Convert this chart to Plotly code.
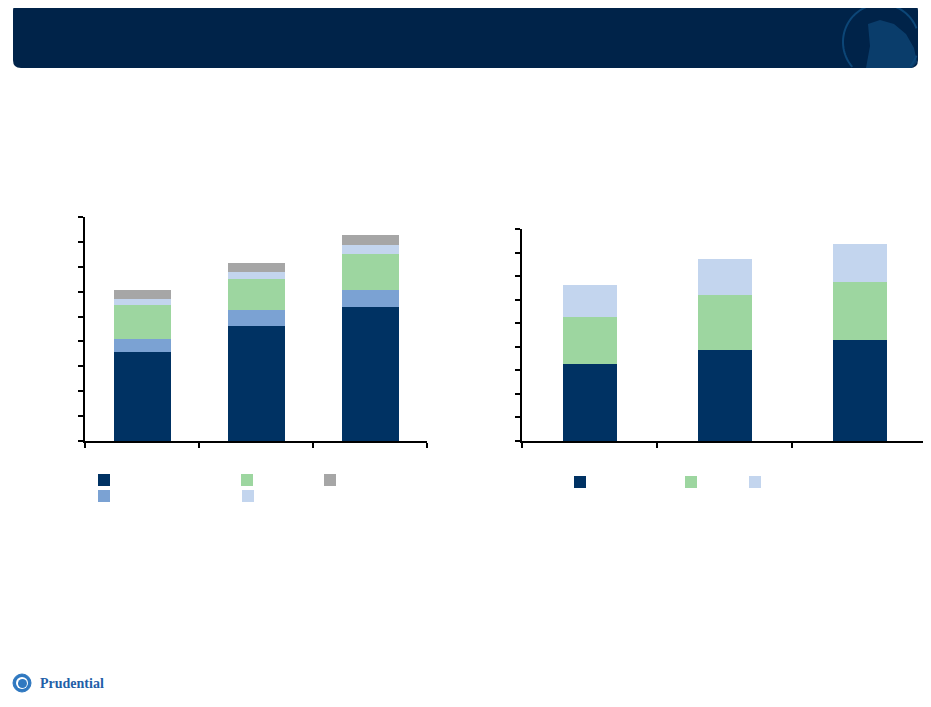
import numpy as np
import plotly.graph_objects as go

# page has an 8px body margin, figure starts at (8, 8)
OFF = 8
W, H = 931 - OFF, 707 - OFF

# left chart: five stacked components (units = one y tick)
left_cats = ["1", "2", "3"]
left_navy = [3.59, 4.63, 5.39]
left_mid = [0.52, 0.64, 0.68]
left_green = [1.37, 1.25, 1.45]
left_light = [0.24, 0.28, 0.37]
left_gray = [0.33, 0.37, 0.40]

# right chart: three stacked components
right_cats = ["1", "2", "3"]
right_navy = [3.26, 3.86, 4.28]
right_green = [2.00, 2.34, 2.47]
right_light = [1.36, 1.53, 1.62]

NAVY = "#003263"
MID = "#7ba2d3"
GREEN = "#9dd6a0"
LIGHT = "#c3d5ee"
GRAY = "#a6a6a6"


def px_x(v):
    return (v - OFF) / W


def px_y(v):
    return 1 - (v - OFF) / H


def p(x, y):
    return f"{px_x(x):.5f},{px_y(y):.5f}"


fig = go.Figure()

left = [(left_navy, NAVY, "legend"), (left_mid, MID, "legend4"),
        (left_green, GREEN, "legend2"), (left_light, LIGHT, "legend5"),
        (left_gray, GRAY, "legend3")]
for vals, col, lg in left:
    fig.add_trace(go.Bar(x=left_cats, y=vals, marker_color=col, marker_line_width=0,
                         width=0.5, name=" ", legend=lg, xaxis="x", yaxis="y"))

right = [(right_navy, NAVY, "legend6"), (right_green, GREEN, "legend7"),
         (right_light, LIGHT, "legend8")]
for vals, col, lg in right:
    fig.add_trace(go.Bar(x=right_cats, y=vals, marker_color=col, marker_line_width=0,
                         width=0.4, name=" ", legend=lg, xaxis="x2", yaxis="y2"))

axis_x = dict(showline=True, linecolor="black", linewidth=1.5, ticks="outside",
              ticklen=5, tickwidth=1.5, tickcolor="black", tickson="boundaries",
              showticklabels=False, showgrid=False, zeroline=False, fixedrange=True)
axis_y = dict(showline=True, linecolor="black", linewidth=1.5, ticks="outside",
              ticklen=5, tickwidth=1.5, tickcolor="black", range=[0, 9], dtick=1,
              showticklabels=False, showgrid=False, zeroline=False)

legend_pos = {
    "legend": (104, 480), "legend2": (247, 480), "legend3": (330, 480),
    "legend4": (104, 496), "legend5": (248, 496),
    "legend6": (580, 482), "legend7": (691, 482), "legend8": (755, 482),
}
legends = {}
for k, (cx, cy) in legend_pos.items():
    legends[k] = dict(x=px_x(cx - 20), y=px_y(cy), xanchor="left", yanchor="middle",
                      bgcolor="rgba(0,0,0,0)", font=dict(size=10), itemwidth=30,
                      tracegroupgap=0)

# header band with rounded corners
x0, x1, y0, y1, r = 13, 918, 3, 68, 8
header = (f"M {p(x0 + r, y0)} L {p(x1 - r, y0)} Q {p(x1, y0)} {p(x1, y0 + r)} "
          f"L {p(x1, y1 - r)} Q {p(x1, y1)} {p(x1 - r, y1)} L {p(x0 + r, y1)} "
          f"Q {p(x0, y1)} {p(x0, y1 - r)} L {p(x0, y0 + r)} Q {p(x0, y0)} {p(x0 + r, y0)} Z")

# faint logo ring inside the header, clipped to the band
t = np.linspace(0, 2 * np.pi, 120)
cx, cy, rr = 881, 42, 38
ring = []
seg = []
for a in t:
    xx, yy = cx + rr * np.cos(a), cy + rr * np.sin(a)
    if xx <= x1 - 1 and y0 + 1 <= yy <= y1 - 1:
        seg.append((xx, yy))
    elif seg:
        ring.append(seg)
        seg = []
if seg:
    ring.append(seg)
ring_path = " ".join("M " + " L ".join(p(a, b) for a, b in s) for s in ring if len(s) > 1)

rock = (f"M {p(868, 24)} L {p(880, 20)} L {p(894, 24)} L {p(906, 34)} L {p(914, 48)} "
        f"L {p(917, 62)} L {p(912, 68)} L {p(866, 68)} L {p(870, 46)} Z")

shapes = [
    dict(type="path", xref="paper", yref="paper", path=header,
         fillcolor="#002349", line_width=0, layer="below"),
    dict(type="path", xref="paper", yref="paper", path=rock,
         fillcolor="#0a3d6b", line_width=0, layer="below"),
    dict(type="path", xref="paper", yref="paper", path=ring_path,
         line=dict(color="#0c4677", width=2), layer="below"),
    dict(type="circle", xref="paper", yref="paper",
         x0=px_x(13), x1=px_x(31), y0=px_y(692), y1=px_y(674),
         fillcolor="#2f78c0", line=dict(color="#2f78c0", width=1)),
    dict(type="circle", xref="paper", yref="paper",
         x0=px_x(16), x1=px_x(28), y0=px_y(689), y1=px_y(677),
         fillcolor="white", line_width=0),
    dict(type="circle", xref="paper", yref="paper",
         x0=px_x(18), x1=px_x(27), y0=px_y(688), y1=px_y(679),
         fillcolor="#2f78c0", line_width=0),
]

fig.update_layout(
    width=W, height=H, margin=dict(l=0, r=0, t=0, b=0),
    paper_bgcolor="white", plot_bgcolor="white", barmode="stack",
    showlegend=True,
    xaxis=dict(axis_x, domain=[px_x(85), px_x(427)], anchor="y"),
    yaxis=dict(axis_y, domain=[px_y(441), px_y(217)], anchor="x"),
    xaxis2=dict(axis_x, domain=[px_x(522), px_x(927)], anchor="y2"),
    yaxis2=dict(axis_y, domain=[px_y(441), px_y(229)], anchor="x2"),
    shapes=shapes,
    annotations=[dict(text="<b>Prudential</b>", x=px_x(38), y=px_y(683),
                      xref="paper", yref="paper", xanchor="left", yanchor="middle",
                      showarrow=False,
                      font=dict(family="Liberation Serif", size=14, color="#1f5fa8"))],
    **legends,
)

fig.write_html("out.html")
